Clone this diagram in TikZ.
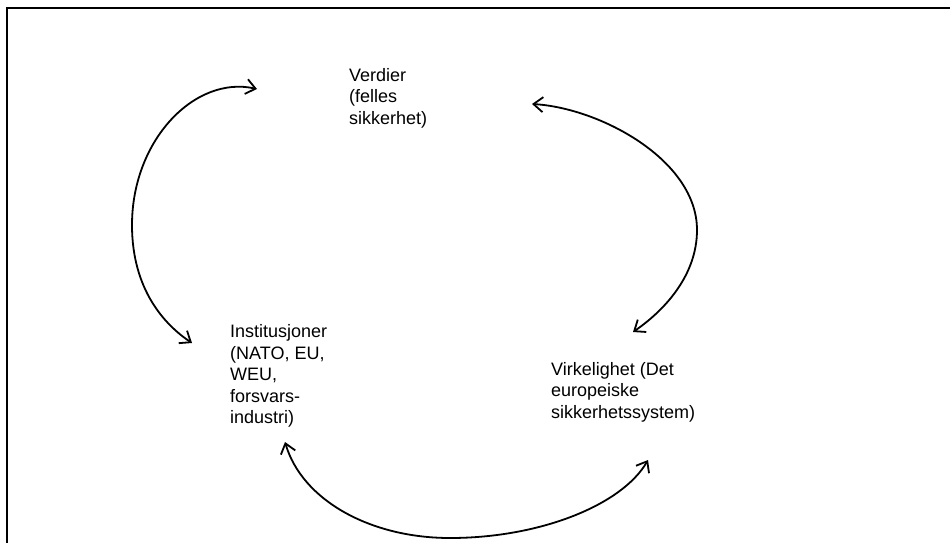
\documentclass[tikz,border=0pt]{standalone}
\usepackage{fontspec}
\setmainfont{Liberation Sans}
\usetikzlibrary{arrows.meta}
\begin{document}
\begin{tikzpicture}[x=1pt,y=-1pt,
  lbl/.style={anchor=north west,inner sep=0pt,align=left,font=\fontsize{18}{21.5}\selectfont},
  link/.style={line width=1.8pt,{Straight Barb[length=9.5pt,width=15pt,line width=1.8pt]}-{Straight Barb[length=9.5pt,width=15pt,line width=1.8pt]}},
  frame/.style={line width=2.4pt}]
\useasboundingbox (0,0) rectangle (950,543);
\draw[frame] (7,543) -- (7,8) -- (950,8);
\node[lbl] (ver) at (349,68) {Verdier\\(felles\\sikkerhet)};
\node[lbl] (ins) at (230,324.5) {Institusjoner\\(NATO, EU,\\WEU,\\forsvars-\\industri)};
\node[lbl] (vir) at (551,362) {Virkelighet (Det\\europeiske\\sikkerhetssystem)};
% arrow ends
\coordinate (a1) at ([shift={(-92,21)}]ver.north west);
\coordinate (a2) at ([shift={(-38,18.5)}]ins.north west);
\coordinate (b1) at ([shift={(183,36)}]ver.north west);
\coordinate (b2) at ([shift={(82,-30)}]vir.north west);
\coordinate (c1) at ([shift={(55,117.5)}]ins.north west);
\coordinate (c2) at ([shift={(97,98)}]vir.north west);
\draw[link] (a1) .. controls (195,75) and (132,140) .. (132,225)
             .. controls (132,290) and (165,325) .. (a2);
\draw[link] (b1) .. controls (600,108) and (697,160) .. (697,230)
             .. controls (697,275) and (665,310) .. (b2);
\draw[link] (c1) .. controls (302,500) and (370,538) .. (450,538)
             .. controls (540,538) and (622,505) .. (c2);
\end{tikzpicture}
\end{document}
